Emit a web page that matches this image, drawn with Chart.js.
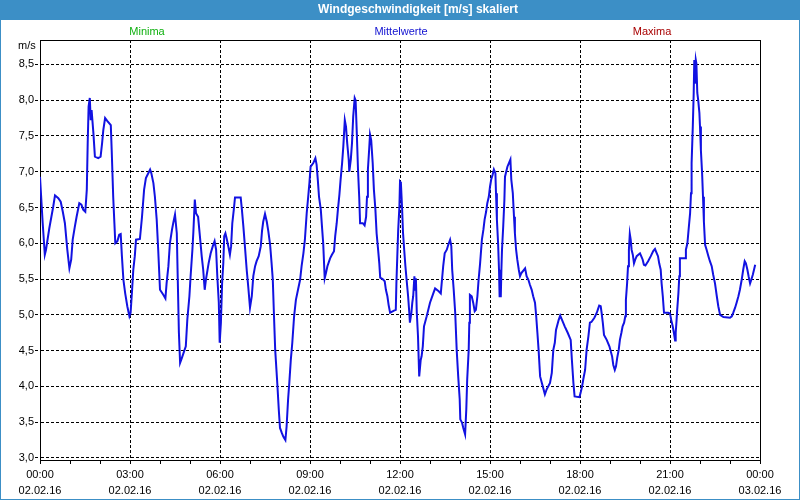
<!DOCTYPE html>
<html>
<head>
<meta charset="utf-8">
<script src="https://cdn.jsdelivr.net/npm/chart.js@4.4.0/dist/chart.umd.min.js"></script>
<style>
  body { margin: 0; background: #fff; }
  #frame { position: relative; width: 800px; height: 500px; overflow: hidden; font-family: 'Liberation Sans', Arial, sans-serif; }
  #titlebar { position: absolute; left: 0; top: 0; width: 800px; height: 20px; background: #3c8fc6; z-index: 3; }
  #titlebar span { position: absolute; left: 418px; top: 2px; transform: translateX(-50%); color: #fff; font-weight: bold; font-size: 12px; white-space: nowrap; }
  #edge { position: absolute; left: 0; top: 0; width: 798px; height: 499px; border: 1px solid #3c8fc6; border-top: none; z-index: 2; pointer-events: none; }
  .leg { position: absolute; top: 25px; font-size: 11px; transform: translateX(-50%); white-space: nowrap; z-index: 2; }
  #unit { position: absolute; left: 18px; top: 39px; font-size: 11px; z-index: 2; }
  canvas { position: absolute; left: 0; top: 0; }
</style>
</head>
<body>
<div id="frame">
  <div id="titlebar"><span>Windgeschwindigkeit [m/s] skaliert</span></div>
  <div class="leg" style="left:147px;color:#10b010">Minima</div>
  <div class="leg" style="left:401px;color:#1010d0">Mittelwerte</div>
  <div class="leg" style="left:652px;color:#a80000">Maxima</div>
  <div id="unit">m/s</div>
  <canvas id="wind" width="800" height="500"></canvas>
  <div id="edge"></div>
</div>
<script>
// time of day in hours (02.02.16 00:00 = 0)
const hours = [
  0, 0.09, 0.16, 0.2, 0.31, 0.44, 0.5, 0.61, 0.69, 0.76, 0.83, 0.91, 0.98, 1.04, 1.09, 1.16, 1.22, 1.31, 1.38, 1.44,
  1.51, 1.56, 1.59, 1.62, 1.66, 1.69, 1.72, 1.78, 1.83, 1.94, 2.02, 2.07, 2.11, 2.17, 2.24, 2.36, 2.39, 2.44, 2.48, 2.51,
  2.58, 2.64, 2.69, 2.73, 2.78, 2.84, 2.91, 2.98, 3.02, 3.07, 3.11, 3.16, 3.2, 3.33, 3.4, 3.47, 3.53, 3.67, 3.71, 3.78,
  3.83, 3.89, 3.94, 4.0, 4.11, 4.18, 4.22, 4.28, 4.33, 4.4, 4.44, 4.5, 4.56, 4.59, 4.63, 4.67, 4.73, 4.86, 4.91, 4.98,
  5.02, 5.08, 5.11, 5.16, 5.2, 5.27, 5.33, 5.39, 5.44, 5.49, 5.53, 5.62, 5.69, 5.76, 5.82, 5.87, 5.91, 5.96, 5.99, 6.03,
  6.07, 6.11, 6.14, 6.18, 6.22, 6.28, 6.33, 6.37, 6.41, 6.46, 6.5, 6.69, 6.73, 6.78, 6.83, 6.89, 6.94, 7.0, 7.06, 7.11,
  7.17, 7.22, 7.29, 7.36, 7.4, 7.44, 7.5, 7.56, 7.61, 7.67, 7.72, 7.76, 7.8, 7.84, 7.91, 7.96, 8.0, 8.06, 8.11, 8.18,
  8.22, 8.27, 8.31, 8.36, 8.41, 8.47, 8.53, 8.6, 8.67, 8.72, 8.78, 8.83, 8.89, 8.94, 8.98, 9.02, 9.11, 9.18, 9.22, 9.26,
  9.3, 9.36, 9.4, 9.44, 9.49, 9.53, 9.58, 9.67, 9.73, 9.8, 9.84, 9.89, 9.93, 9.98, 10.02, 10.07, 10.11, 10.16, 10.2, 10.24,
  10.29, 10.31, 10.36, 10.4, 10.44, 10.49, 10.52, 10.56, 10.6, 10.64, 10.67, 10.76, 10.82, 10.87, 10.9, 10.93, 10.97, 11.0, 11.04, 11.09,
  11.13, 11.18, 11.22, 11.27, 11.31, 11.34, 11.42, 11.49, 11.53, 11.58, 11.62, 11.67, 11.8, 11.86, 11.88, 11.91, 11.94, 11.98, 12.0, 12.03,
  12.07, 12.1, 12.14, 12.18, 12.22, 12.27, 12.31, 12.33, 12.38, 12.41, 12.44, 12.48, 12.51, 12.53, 12.56, 12.6, 12.64, 12.69, 12.72, 12.76,
  12.8, 12.89, 13.0, 13.11, 13.17, 13.29, 13.36, 13.4, 13.44, 13.49, 13.56, 13.61, 13.67, 13.71, 13.74, 13.79, 13.84, 13.89, 13.94, 13.99,
  14.01, 14.07, 14.11, 14.17, 14.21, 14.24, 14.29, 14.31, 14.33, 14.39, 14.44, 14.49, 14.53, 14.58, 14.62, 14.67, 14.73, 14.78, 14.82, 14.87,
  14.91, 14.96, 15.0, 15.04, 15.09, 15.13, 15.18, 15.2, 15.23, 15.27, 15.3, 15.32, 15.36, 15.38, 15.4, 15.44, 15.48, 15.5, 15.58, 15.68,
  15.71, 15.76, 15.8, 15.83, 15.87, 15.91, 15.96, 16.0, 16.04, 16.17, 16.22, 16.28, 16.33, 16.39, 16.44, 16.5, 16.54, 16.58, 16.62, 16.67,
  16.76, 16.83, 16.89, 17.0, 17.06, 17.11, 17.16, 17.2, 17.29, 17.34, 17.4, 17.49, 17.59, 17.69, 17.73, 17.78, 17.82, 17.98, 18.02, 18.07,
  18.11, 18.17, 18.22, 18.28, 18.33, 18.38, 18.48, 18.56, 18.6, 18.64, 18.69, 18.72, 18.76, 18.8, 18.89, 18.98, 19.07, 19.11, 19.16, 19.2,
  19.24, 19.29, 19.33, 19.38, 19.42, 19.47, 19.51, 19.53, 19.57, 19.6, 19.63, 19.66, 19.69, 19.72, 19.76, 19.8, 19.84, 19.89, 20.0, 20.04,
  20.09, 20.13, 20.18, 20.27, 20.36, 20.44, 20.5, 20.56, 20.6, 20.64, 20.69, 20.72, 20.76, 20.8, 20.94, 21.0, 21.04, 21.09, 21.13, 21.17,
  21.19, 21.22, 21.24, 21.28, 21.31, 21.33, 21.5, 21.53, 21.58, 21.62, 21.67, 21.7, 21.72, 21.76, 21.79, 21.81, 21.83, 21.86, 21.88, 21.91,
  21.94, 21.98, 22.0, 22.03, 22.07, 22.1, 22.13, 22.17, 22.22, 22.28, 22.33, 22.39, 22.44, 22.5, 22.56, 22.61, 22.67, 22.78, 23.0, 23.06,
  23.11, 23.17, 23.22, 23.28, 23.33, 23.39, 23.44, 23.49, 23.53, 23.58, 23.62, 23.67, 23.71, 23.76, 23.8, 23.84
];

// wind speed m/s
const speed = [
  6.93, 6.28, 5.84, 5.91, 6.21, 6.51, 6.67, 6.63, 6.58, 6.44, 6.28, 5.91, 5.65, 5.77, 6.05, 6.23, 6.37, 6.56, 6.54, 6.47,
  6.44, 6.75, 7.40, 7.91, 8.03, 7.72, 7.86, 7.54, 7.21, 7.19, 7.21, 7.40, 7.58, 7.75, 7.71, 7.65, 7.30, 6.65, 6.28, 6.00,
  6.03, 6.12, 6.13, 5.82, 5.49, 5.30, 5.12, 4.98, 5.03, 5.35, 5.63, 5.82, 6.05, 6.06, 6.37, 6.75, 6.91, 7.03, 6.98, 6.84,
  6.65, 6.33, 5.91, 5.35, 5.28, 5.23, 5.44, 5.68, 6.00, 6.19, 6.28, 6.40, 6.14, 5.54, 4.75, 4.33, 4.40, 4.56, 4.93, 5.26,
  5.54, 5.91, 6.14, 6.61, 6.42, 6.37, 6.10, 5.82, 5.63, 5.35, 5.49, 5.72, 5.86, 5.96, 6.03, 5.91, 5.54, 5.17, 4.61, 4.89,
  5.44, 5.72, 6.10, 6.14, 6.07, 5.95, 5.84, 5.96, 6.28, 6.47, 6.64, 6.64, 6.47, 6.23, 5.96, 5.63, 5.40, 5.10, 5.26, 5.54,
  5.68, 5.75, 5.82, 5.96, 6.17, 6.30, 6.41, 6.30, 6.17, 5.98, 5.72, 5.49, 4.98, 4.51, 4.04, 3.67, 3.42, 3.35, 3.30, 3.25,
  3.44, 3.82, 4.05, 4.37, 4.61, 4.98, 5.21, 5.35, 5.49, 5.68, 5.86, 6.05, 6.42, 6.65, 6.84, 7.07, 7.12, 7.19, 7.10, 6.89,
  6.65, 6.47, 6.23, 6.00, 5.51, 5.58, 5.68, 5.79, 5.84, 5.89, 6.10, 6.28, 6.47, 6.68, 6.89, 7.12, 7.35, 7.72, 7.63, 7.40,
  7.17, 7.00, 7.17, 7.40, 7.77, 8.03, 8.00, 7.54, 7.03, 6.65, 6.28, 6.28, 6.25, 6.37, 6.65, 7.03, 7.30, 7.52, 7.44, 7.12,
  6.75, 6.47, 6.14, 5.91, 5.72, 5.52, 5.50, 5.47, 5.35, 5.26, 5.14, 5.03, 5.06, 5.07, 5.44, 5.82, 6.19, 6.51, 6.86, 6.84,
  6.49, 6.15, 5.91, 5.68, 5.49, 5.26, 5.03, 4.89, 5.03, 5.17, 5.26, 5.54, 5.35, 5.51, 5.03, 4.70, 4.14, 4.37, 4.42, 4.56,
  4.84, 4.98, 5.17, 5.30, 5.37, 5.33, 5.30, 5.49, 5.68, 5.86, 5.91, 5.98, 6.05, 5.96, 5.63, 5.35, 5.03, 4.51, 4.14, 3.82,
  3.54, 3.49, 3.42, 3.33, 3.68, 4.10, 4.51, 4.89, 5.28, 5.26, 5.17, 5.05, 5.07, 5.26, 5.49, 5.72, 6.05, 6.19, 6.33, 6.44,
  6.56, 6.65, 6.79, 6.89, 6.96, 7.03, 6.98, 6.70, 6.33, 6.00, 5.63, 5.26, 5.26, 5.63, 5.91, 6.23, 6.61, 6.93, 7.07, 7.17,
  6.89, 6.70, 6.37, 6.14, 5.91, 5.77, 5.63, 5.54, 5.58, 5.65, 5.54, 5.49, 5.42, 5.35, 5.26, 5.17, 4.98, 4.75, 4.51, 4.14,
  4.00, 3.89, 3.96, 4.05, 4.19, 4.51, 4.61, 4.79, 4.93, 4.99, 4.93, 4.84, 4.75, 4.65, 4.37, 4.05, 3.86, 3.85, 3.91, 4.00,
  4.10, 4.23, 4.51, 4.70, 4.89, 4.90, 4.96, 5.03, 5.08, 5.13, 5.12, 5.03, 4.89, 4.72, 4.65, 4.56, 4.42, 4.30, 4.23, 4.28,
  4.40, 4.51, 4.65, 4.75, 4.84, 4.89, 4.98, 5.21, 5.44, 5.68, 5.91, 6.13, 6.05, 5.91, 5.84, 5.72, 5.77, 5.82, 5.86, 5.82,
  5.77, 5.70, 5.69, 5.75, 5.82, 5.89, 5.92, 5.86, 5.82, 5.72, 5.63, 5.44, 5.26, 5.03, 5.03, 5.02, 4.93, 4.84, 4.75, 4.64,
  4.75, 4.93, 5.07, 5.30, 5.54, 5.79, 5.79, 5.91, 6.00, 6.19, 6.42, 6.70, 7.12, 7.63, 8.10, 8.56, 8.23, 8.56, 8.51, 8.10,
  8.00, 7.82, 7.63, 7.30, 6.98, 6.65, 6.30, 5.98, 5.91, 5.82, 5.75, 5.68, 5.56, 5.44, 5.26, 5.12, 5.00, 4.97, 4.96, 4.98,
  5.03, 5.10, 5.17, 5.26, 5.35, 5.49, 5.63, 5.75, 5.72, 5.63, 5.54, 5.44, 5.49, 5.56, 5.63, 5.70
];

const yTickValues = [3.0, 3.5, 4.0, 4.5, 5.0, 5.5, 6.0, 6.5, 7.0, 7.5, 8.0, 8.5];
const xTickTimes = ['00:00', '03:00', '06:00', '09:00', '12:00', '15:00', '18:00', '21:00', '00:00'];
const xTickDates = ['02.02.16', '02.02.16', '02.02.16', '02.02.16', '02.02.16', '02.02.16', '02.02.16', '02.02.16', '03.02.16'];

const points = hours.map((h, i) => ({ x: h, y: speed[i] }));

// solid top and right edge of the plot box
const frameBox = {
  id: 'frameBox',
  afterDraw(chart) {
    const { ctx, chartArea: a } = chart;
    ctx.save();
    ctx.strokeStyle = '#000';
    ctx.lineWidth = 1;
    ctx.setLineDash([]);
    ctx.beginPath();
    ctx.moveTo(a.left, Math.round(a.top) + 0.5);
    ctx.lineTo(Math.round(a.right) + 0.5, Math.round(a.top) + 0.5);
    ctx.lineTo(Math.round(a.right) + 0.5, a.bottom);
    ctx.stroke();
    ctx.restore();
  }
};

const tickFont = { family: "'Liberation Sans', Arial, sans-serif", size: 11, lineHeight: 16 / 11 };

new Chart(document.getElementById('wind'), {
  type: 'line',
  data: {
    datasets: [{
      data: points,
      borderColor: '#1212e2',
      borderWidth: 2,
      pointRadius: 0,
      tension: 0,
      fill: false
    }]
  },
  options: {
    responsive: false,
    animation: false,
    devicePixelRatio: 1,
    layout: { padding: { top: 40, right: 40, left: 0, bottom: 0 } },
    plugins: { legend: { display: false }, tooltip: { enabled: false }, title: { display: false } },
    scales: {
      x: {
        type: 'linear',
        min: 0,
        max: 24,
        afterBuildTicks(scale) {
          const t = [];
          for (let h = 0; h <= 24; h++) t.push({ value: h });
          scale.ticks = t;
        },
        afterFit(scale) { scale.height = 40; },
        ticks: {
          autoSkip: false,
          maxRotation: 0,
          color: '#000',
          font: tickFont,
          padding: 3,
          callback(v) {
            if (v % 3 !== 0) return '';
            const i = v / 3;
            return [xTickTimes[i], xTickDates[i]];
          }
        },
        grid: {
          color: (c) => (c.tick && c.tick.value % 3 === 0) ? '#000' : 'rgba(0,0,0,0)',
          tickColor: '#000',
          tickLength: 4,
          lineWidth: 1
        },
        border: { display: true, color: '#000', width: 1, dash: [3, 2] }
      },
      y: {
        min: 2.972,
        max: 8.84,
        afterBuildTicks(scale) {
          scale.ticks = yTickValues.map(v => ({ value: v }));
        },
        afterFit(scale) { scale.width = 40; },
        ticks: {
          color: '#000',
          font: tickFont,
          padding: 1,
          callback: (v) => v.toFixed(1).replace('.', ',')
        },
        grid: {
          color: '#000',
          tickColor: '#000',
          tickLength: 5,
          tickBorderDash: [3, 2],
          lineWidth: 1
        },
        border: { display: true, color: '#000', width: 1, dash: [3, 2] }
      }
    }
  },
  plugins: [frameBox]
});
</script>
</body>
</html>
